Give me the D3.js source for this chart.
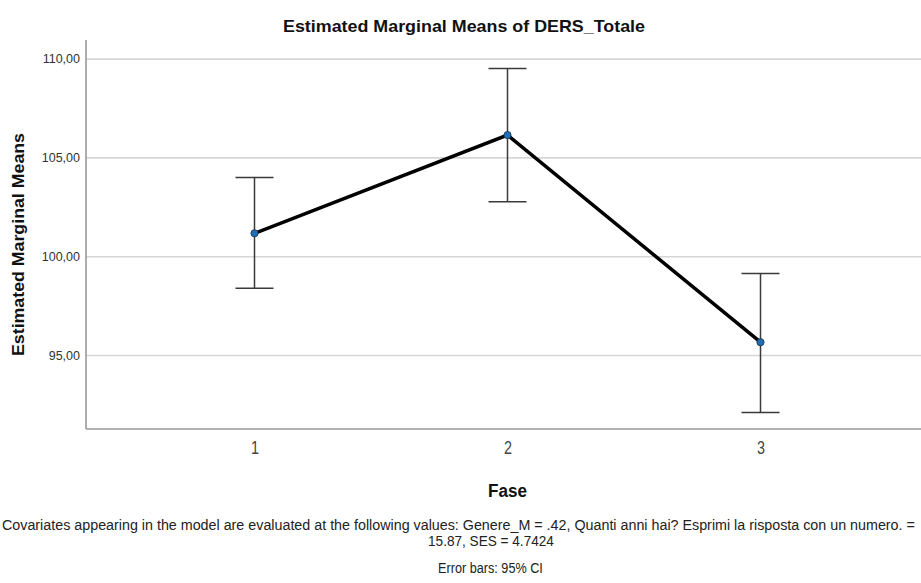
<!DOCTYPE html>
<html>
<head>
<meta charset="utf-8">
<script src="https://cdn.jsdelivr.net/npm/d3@7"></script>
<style>
  html, body { margin: 0; padding: 0; background: #fff; }
  svg { display: block; }
</style>
</head>
<body>
<svg id="chart" width="921" height="583"></svg>
<script>
// Estimated marginal means of DERS_Totale per Fase, with 95% CI
const phases = ["1", "2", "3"];
const means = [101.16, 106.13, 95.65];
const ciLower = [98.38, 102.76, 92.10];
const ciUpper = [103.99, 109.50, 99.13];
const yTicks = [95, 100, 105, 110];

const svg = d3.select("#chart");
const W = 921, H = 583;
const plotLeft = 86, plotRight = 929, plotTop = 40, plotBottom = 429;

const x = d3.scalePoint().domain(phases).range([plotLeft, plotRight]).padding(0.666);
const y = d3.scaleLinear().domain([91.26, 110.94]).range([plotBottom, plotTop]);

const sans = "'Liberation Sans', Arial, sans-serif";

// condensed look: squeeze text horizontally to a given width
function squeeze(sel, width) {
  sel.attr("textLength", width).attr("lengthAdjust", "spacingAndGlyphs");
}

// condensed text placed via a horizontal scale transform (left-anchored at px, py)
function condensed(parent, px, py, str, width, size) {
  const g = parent.append("g");
  const t = g.append("text").attr("x", 0).attr("y", 0).attr("font-size", size).text(str);
  const natural = t.node().getComputedTextLength();
  g.attr("transform", `translate(${px},${py}) scale(${width / natural},1)`);
  return t;
}

// grid lines
const yAxis = d3.axisLeft(y).tickValues(yTicks).tickSize(-(W - plotLeft)).tickPadding(6)
  .tickFormat(d => d3.format(".2f")(d).replace(".", ","));
const gy = svg.append("g").attr("transform", `translate(${plotLeft},0)`).call(yAxis);
gy.select(".domain").remove();
gy.selectAll(".tick line").attr("stroke", "#d6d6d6").attr("stroke-width", 1.6);
gy.selectAll(".tick text").attr("fill", "#333").attr("font-family", sans).attr("font-size", 12.5);

// x axis
const xAxis = d3.axisBottom(x).tickSize(0).tickPadding(14);
const gx = svg.append("g").attr("transform", `translate(0,${plotBottom})`).call(xAxis);
gx.select(".domain").remove();
gx.selectAll(".tick text").attr("fill", "#444").attr("font-family", sans).attr("font-size", 18)
  .attr("dy", "0.62em").call(squeeze, 8);

// axis frame lines
svg.append("line").attr("x1", plotLeft).attr("x2", plotLeft).attr("y1", plotTop).attr("y2", plotBottom)
  .attr("stroke", "#999").attr("stroke-width", 1.6);
svg.append("line").attr("x1", plotLeft).attr("x2", W).attr("y1", plotBottom).attr("y2", plotBottom)
  .attr("stroke", "#999").attr("stroke-width", 1.6);

// error bars
const cap = 19;
const eb = svg.append("g").attr("stroke", "#3a3a3a").attr("stroke-width", 1.5);
phases.forEach((p, i) => {
  const cx = x(p);
  eb.append("line").attr("x1", cx).attr("x2", cx).attr("y1", y(ciUpper[i])).attr("y2", y(ciLower[i]));
  eb.append("line").attr("x1", cx - cap).attr("x2", cx + cap).attr("y1", y(ciUpper[i])).attr("y2", y(ciUpper[i]));
  eb.append("line").attr("x1", cx - cap).attr("x2", cx + cap).attr("y1", y(ciLower[i])).attr("y2", y(ciLower[i]));
});

// mean line
const line = d3.line().x((d, i) => x(phases[i])).y(d => y(d));
svg.append("path").datum(means).attr("d", line)
  .attr("fill", "none").attr("stroke", "#000").attr("stroke-width", 3.5).attr("stroke-linejoin", "miter");

// markers
svg.append("g").selectAll("circle").data(means).join("circle")
  .attr("cx", (d, i) => x(phases[i])).attr("cy", d => y(d)).attr("r", 3.6)
  .attr("fill", "#1f6fb8").attr("stroke", "#1b3550").attr("stroke-width", 0.9);

// titles
svg.append("text").attr("x", 283).attr("y", 32)
  .attr("font-family", sans).attr("font-weight", "bold").attr("font-size", 17).attr("fill", "#111")
  .text("Estimated Marginal Means of DERS_Totale").call(squeeze, 362);
svg.append("text").attr("transform", "translate(24,356) rotate(-90)")
  .attr("font-family", sans).attr("font-weight", "bold").attr("font-size", 16.5).attr("fill", "#111")
  .text("Estimated Marginal Means").call(squeeze, 223);
svg.append("text").attr("x", 488).attr("y", 497)
  .attr("font-family", sans).attr("font-weight", "bold").attr("font-size", 17.5).attr("fill", "#111")
  .text("Fase").call(squeeze, 39);

// footnotes
const foot = svg.append("g").attr("font-family", sans).attr("fill", "#222");
condensed(foot, 2, 530,
  "Covariates appearing in the model are evaluated at the following values: Genere_M = .42, Quanti anni hai? Esprimi la risposta con un numero. =",
  914, 15);
condensed(foot, 428, 546, "15.87, SES = 4.7424", 126, 15);
condensed(foot, 438, 573, "Error bars: 95% CI", 105, 15);
</script>
</body>
</html>
